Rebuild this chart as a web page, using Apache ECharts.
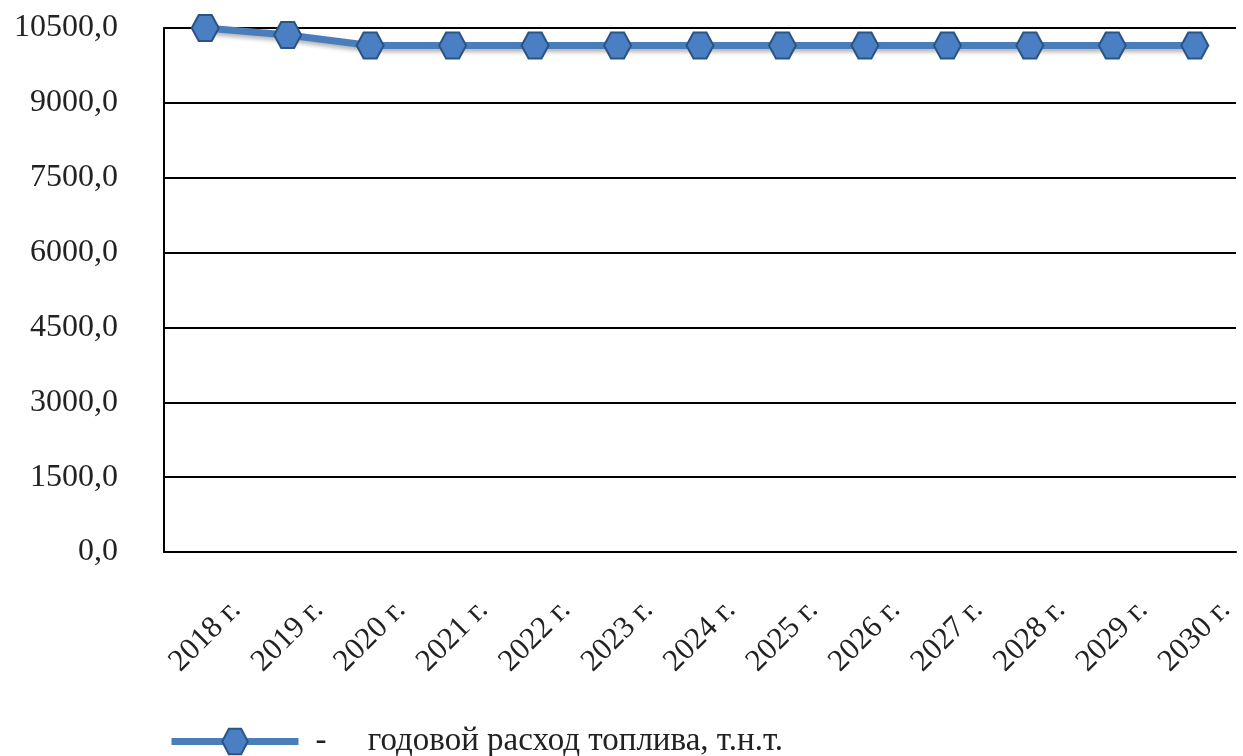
<!DOCTYPE html>
<html>
<head>
<meta charset="utf-8">
<script src="https://cdn.jsdelivr.net/npm/echarts@6/dist/echarts.min.js"></script>
<style>
  html, body { margin: 0; padding: 0; background: #fff; }
  #chart { width: 1243px; height: 756px; }
</style>
</head>
<body>
<div id="chart"></div>
<script>
// data
const years = ['2018 г.', '2019 г.', '2020 г.', '2021 г.', '2022 г.', '2023 г.', '2024 г.',
               '2025 г.', '2026 г.', '2027 г.', '2028 г.', '2029 г.', '2030 г.'];
const fuelUse = [10500, 10360, 10150, 10150, 10150, 10150, 10150,
                 10150, 10150, 10150, 10150, 10150, 10150];
const seriesName = 'годовой расход топлива, т.н.т.';

const hexagon = 'path://M0,5 L2.6,0 L7.4,0 L10,5 L7.4,10 L2.6,10 Z';
const font = '"Liberation Serif", "DejaVu Serif", serif';

const chart = echarts.init(document.getElementById('chart'));

chart.setOption({
    animation: false,
    grid: {
        left: 164,
        right: 7,
        top: 28,
        bottom: 204
    },
    legend: {
        left: 163,
        top: 720,
        itemWidth: 127,
        itemHeight: 32,
        formatter: name => '-     ' + name,
        lineStyle: { width: 7, color: '#4a7ebb' },
        textStyle: {
            fontFamily: font, fontSize: 33, color: '#222',
            padding: [0, 0, 0, 12]
        },
        data: [seriesName]
    },
    xAxis: {
        type: 'category',
        data: years,
        boundaryGap: true,
        axisLine: { lineStyle: { color: '#000', width: 2 } },
        axisTick: { show: false },
        axisLabel: {
            rotate: 45,
            align: 'center',
            verticalAlign: 'middle',
            margin: 84,
            interval: 0,
            fontFamily: font,
            fontSize: 31,
            color: '#222'
        }
    },
    yAxis: {
        type: 'value',
        min: 0,
        max: 10500,
        interval: 1500,
        axisLine: { show: true, lineStyle: { color: '#000', width: 2 } },
        axisTick: { show: false },
        splitLine: { lineStyle: { color: '#000', width: 2 } },
        axisLabel: {
            margin: 46,
            fontFamily: font,
            fontSize: 32,
            color: '#222',
            formatter: v => v.toFixed(1).replace('.', ',')
        }
    },
    series: [{
        name: seriesName,
        type: 'line',
        data: fuelUse,
        symbol: hexagon,
        symbolSize: [27, 26],
        lineStyle: {
            color: '#4a7ebb',
            width: 7,
            shadowColor: 'rgba(0, 0, 0, 0.3)',
            shadowBlur: 4,
            shadowOffsetY: 3
        },
        itemStyle: {
            color: '#4a7fc4',
            borderColor: '#2b5484',
            borderWidth: 2
        }
    }]
});
</script>
</body>
</html>
